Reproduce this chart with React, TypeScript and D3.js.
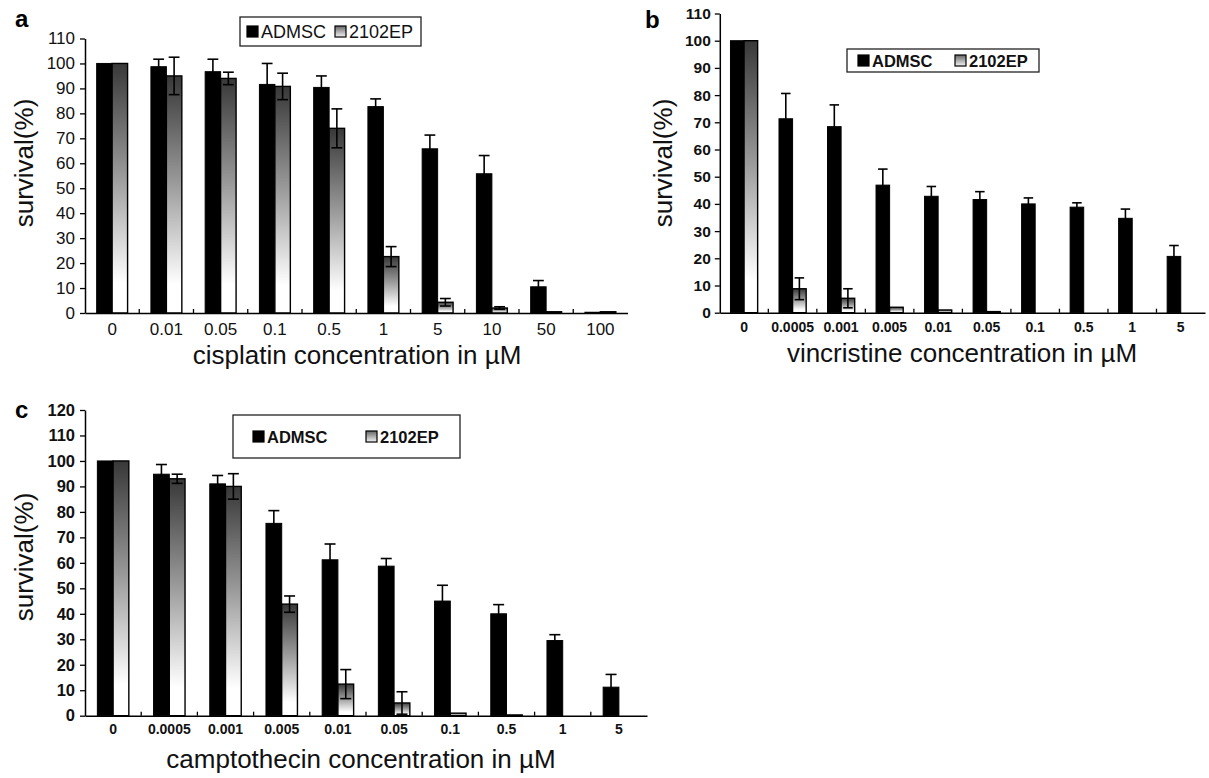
import React, { useEffect, useRef } from 'react';
import * as d3 from 'd3';

// panel a: cisplatin
const cisCats = ['0', '0.01', '0.05', '0.1', '0.5', '1', '5', '10', '50', '100'];
const cisAdmsc = [100, 98.7, 96.7, 91.6, 90.4, 82.7, 65.8, 55.8, 10.5, 0.3];
const cisAdmscErr = [0, 3, 5, 8.4, 4.6, 3.1, 5.5, 7.3, 2.5, 0];
const cisEp = [100, 95, 94, 90.8, 74, 22.6, 4.3, 2, 0.5, 0.5];
const cisEpErr = [0, 7.5, 2.5, 5.3, 7.8, 4, 1.5, 0.5, 0, 0];

// panel b: vincristine
const vinCats = ['0', '0.0005', '0.001', '0.005', '0.01', '0.05', '0.1', '0.5', '1', '5'];
const vinAdmsc = [100, 71.3, 68.4, 46.9, 42.8, 41.6, 40, 38.8, 34.7, 20.7];
const vinAdmscErr = [0, 9.3, 8, 5.9, 3.6, 2.9, 2.2, 1.6, 3.4, 4];
const vinEp = [100, 8.8, 5.3, 2, 1, 0.4, 0, 0, 0, 0];
const vinEpErr = [0, 4, 3.5, 0, 0, 0, 0, 0, 0, 0];

// panel c: camptothecin
const camCats = ['0', '0.0005', '0.001', '0.005', '0.01', '0.05', '0.1', '0.5', '1', '5'];
const camAdmsc = [100, 94.8, 91, 75.5, 61.2, 58.7, 45, 40, 29.5, 11.2];
const camAdmscErr = [0, 3.8, 3.3, 5, 6.2, 3, 6.2, 3.6, 2.3, 5];
const camEp = [100, 93, 90, 43.8, 12.4, 5, 1, 0.3, 0, 0];
const camEpErr = [0, 1.8, 5, 3.2, 5.7, 4.4, 0, 0, 0, 0];

const seriesNames = ['ADMSC', '2102EP'];
const yTicksA = d3.range(0, 111, 10);
const yTicksB = d3.range(0, 111, 10);
const yTicksC = d3.range(0, 121, 10);

const FONT = '"Liberation Sans", Arial, Helvetica, sans-serif';

type Panel = {
  letter: string;
  letterX: number;
  letterY: number;
  cats: string[];
  adm: number[];
  admErr: number[];
  ep: number[];
  epErr: number[];
  yTicks: number[];
  x0: number;
  x1: number;
  y0: number;
  yTop: number;
  barFrac: number;
  tickFont: number;
  tickWeight: string;
  xTickFont: number;
  xLabelPad: number;
  yLabelPad: number;
  xTitle: string;
  xTitleX: number;
  xTitleY: number;
  yTitleX: number;
  yTitleY: number;
  titleFont: number;
  legend: { x: number; y: number; w: number; h: number; pad: number; gap: number; font: number; weight: string };
};

function drawPanel(svg: d3.Selection<SVGSVGElement, unknown, null, undefined>, p: Panel) {
  const g = svg.append('g');
  const yMax = p.yTicks[p.yTicks.length - 1];

  const x = d3.scaleBand<string>().domain(p.cats).range([p.x0, p.x1]).padding(0);
  const y = d3.scaleLinear().domain([0, yMax]).range([p.y0, p.yTop]);
  const bw = x.step() * p.barFrac;
  const mid = (c: string) => (x(c) as number) + x.bandwidth() / 2;

  // ADMSC bars
  g.selectAll('rect.adm')
    .data(p.adm)
    .enter()
    .append('rect')
    .attr('x', (d, i) => mid(p.cats[i]) - bw)
    .attr('y', d => y(d))
    .attr('width', bw)
    .attr('height', d => p.y0 - y(d))
    .attr('fill', '#000')
    .attr('stroke', '#000')
    .attr('stroke-width', 1);

  // 2102EP bars
  g.selectAll('rect.ep')
    .data(p.ep)
    .enter()
    .append('rect')
    .attr('x', (d, i) => mid(p.cats[i]))
    .attr('y', d => y(d))
    .attr('width', bw)
    .attr('height', d => p.y0 - y(d))
    .attr('fill', 'url(#epGrad)')
    .attr('stroke', '#000')
    .attr('stroke-width', 1.4);

  // error bars
  const cap = bw * 0.7;
  const errs = (vals: number[], err: number[], off: number) => {
    vals.forEach((v, i) => {
      const e = err[i];
      if (!e) return;
      const cx = mid(p.cats[i]) + off;
      const eg = g.append('g').attr('stroke', '#000').attr('stroke-width', 1.6);
      eg.append('line').attr('x1', cx).attr('x2', cx).attr('y1', y(v - e)).attr('y2', y(v + e));
      eg.append('line').attr('x1', cx - cap / 2).attr('x2', cx + cap / 2).attr('y1', y(v + e)).attr('y2', y(v + e));
      eg.append('line').attr('x1', cx - cap / 2).attr('x2', cx + cap / 2).attr('y1', y(v - e)).attr('y2', y(v - e));
    });
  };
  errs(p.adm, p.admErr, -bw / 2);
  errs(p.ep, p.epErr, bw / 2);

  // y axis
  const yAxis = d3.axisLeft(y).tickValues(p.yTicks).tickSize(5).tickSizeOuter(0).tickPadding(p.yLabelPad);
  const ya = g.append('g').attr('transform', `translate(${p.x0},0)`).call(yAxis);
  ya.select('.domain').attr('stroke', '#000').attr('stroke-width', 1.5);
  ya.selectAll('line').attr('stroke', '#000').attr('stroke-width', 1.3);
  ya.selectAll('text')
    .attr('font-family', FONT)
    .attr('font-size', p.tickFont)
    .attr('font-weight', p.tickWeight)
    .attr('fill', '#111');

  // x axis
  const xAxis = d3.axisBottom(x).tickSize(0).tickSizeOuter(0).tickPadding(p.xLabelPad);
  const xa = g.append('g').attr('transform', `translate(0,${p.y0})`).call(xAxis);
  xa.select('.domain').attr('stroke', '#000').attr('stroke-width', 1.5);
  xa.selectAll('text')
    .attr('font-family', FONT)
    .attr('font-size', p.xTickFont)
    .attr('font-weight', p.tickWeight)
    .attr('fill', '#111');
  xa.selectAll('line.bound')
    .data(p.cats.slice(1))
    .enter()
    .append('line')
    .attr('class', 'bound')
    .attr('x1', d => x(d) as number)
    .attr('x2', d => x(d) as number)
    .attr('y1', 0)
    .attr('y2', -4)
    .attr('stroke', '#000')
    .attr('stroke-width', 1.3);

  // titles
  g.append('text')
    .attr('x', p.xTitleX)
    .attr('y', p.xTitleY)
    .attr('text-anchor', 'middle')
    .attr('font-family', FONT)
    .attr('font-size', p.titleFont)
    .attr('fill', '#111')
    .text(p.xTitle);
  g.append('text')
    .attr('transform', `translate(${p.yTitleX},${p.yTitleY}) rotate(-90)`)
    .attr('text-anchor', 'middle')
    .attr('dominant-baseline', 'central')
    .attr('font-family', FONT)
    .attr('font-size', p.titleFont)
    .attr('fill', '#111')
    .text('survival(%)');
  g.append('text')
    .attr('x', p.letterX)
    .attr('y', p.letterY)
    .attr('font-family', FONT)
    .attr('font-size', 24)
    .attr('font-weight', 'bold')
    .text(p.letter);

  // legend
  const L = p.legend;
  const lg = g.append('g').attr('transform', `translate(${L.x},${L.y})`);
  lg.append('rect')
    .attr('width', L.w)
    .attr('height', L.h)
    .attr('fill', '#fff')
    .attr('stroke', '#222')
    .attr('stroke-width', 1.3);
  const sq = 11;
  seriesNames.forEach((name, i) => {
    const ix = L.pad + i * L.gap;
    lg.append('rect')
      .attr('x', ix)
      .attr('y', L.h / 2 - sq / 2)
      .attr('width', sq)
      .attr('height', sq)
      .attr('fill', i === 0 ? '#000' : 'url(#epGradL)')
      .attr('stroke', '#000')
      .attr('stroke-width', 1.2);
    lg.append('text')
      .attr('x', ix + sq + 3)
      .attr('y', L.h / 2)
      .attr('dominant-baseline', 'central')
      .attr('font-family', FONT)
      .attr('font-size', L.font)
      .attr('font-weight', L.weight)
      .attr('fill', '#111')
      .text(name);
  });
}

const panels: Panel[] = [
  {
    letter: 'a', letterX: 15, letterY: 27,
    cats: cisCats, adm: cisAdmsc, admErr: cisAdmscErr, ep: cisEp, epErr: cisEpErr,
    yTicks: yTicksA, x0: 85, x1: 627.5, y0: 313, yTop: 38.5, barFrac: 0.285,
    tickFont: 17, tickWeight: 'normal', xTickFont: 17, xLabelPad: 10, yLabelPad: 5,
    xTitle: 'cisplatin concentration in \u00b5M', xTitleX: 357, xTitleY: 364,
    yTitleX: 24, yTitleY: 163, titleFont: 26,
    legend: { x: 240, y: 17, w: 181, h: 29, pad: 7, gap: 88, font: 18, weight: 'normal' },
  },
  {
    letter: 'b', letterX: 645, letterY: 28,
    cats: vinCats, adm: vinAdmsc, admErr: vinAdmscErr, ep: vinEp, epErr: vinEpErr,
    yTicks: yTicksB, x0: 719.8, x1: 1205, y0: 312.7, yTop: 13.5, barFrac: 0.28,
    tickFont: 15.5, tickWeight: 'bold', xTickFont: 14, xLabelPad: 9, yLabelPad: 4,
    xTitle: 'vincristine concentration in \u00b5M', xTitleX: 962, xTitleY: 362,
    yTitleX: 663, yTitleY: 163, titleFont: 26,
    legend: { x: 847, y: 49, w: 192, h: 23, pad: 11, gap: 97, font: 16.5, weight: 'bold' },
  },
  {
    letter: 'c', letterX: 15, letterY: 418,
    cats: camCats, adm: camAdmsc, admErr: camAdmscErr, ep: camEp, epErr: camEpErr,
    yTicks: yTicksC, x0: 85, x1: 647, y0: 715.7, yTop: 410, barFrac: 0.28,
    tickFont: 16.5, tickWeight: 'bold', xTickFont: 14, xLabelPad: 8, yLabelPad: 5,
    xTitle: 'camptothecin concentration in \u00b5M', xTitleX: 361, xTitleY: 768,
    yTitleX: 24, yTitleY: 557, titleFont: 26,
    legend: { x: 233, y: 415, w: 227, h: 43, pad: 20, gap: 113, font: 16.5, weight: 'bold' },
  },
];

export default function App() {
  const ref = useRef<SVGSVGElement>(null);

  useEffect(() => {
    const svg = d3.select(ref.current as SVGSVGElement);
    svg.selectAll('*').remove();

    const defs = svg.append('defs');
    const grad = defs.append('linearGradient').attr('id', 'epGrad')
      .attr('x1', 0).attr('y1', 0).attr('x2', 0).attr('y2', 1);
    grad.append('stop').attr('offset', 0).attr('stop-color', '#383838');
    grad.append('stop').attr('offset', 0.45).attr('stop-color', '#9a9a9a');
    grad.append('stop').attr('offset', 0.88).attr('stop-color', '#ffffff');
    grad.append('stop').attr('offset', 1).attr('stop-color', '#ffffff');
    const gradL = defs.append('linearGradient').attr('id', 'epGradL')
      .attr('x1', 0).attr('y1', 0).attr('x2', 0).attr('y2', 1);
    gradL.append('stop').attr('offset', 0).attr('stop-color', '#666');
    gradL.append('stop').attr('offset', 1).attr('stop-color', '#f4f4f4');

    panels.forEach(p => drawPanel(svg, p));
  }, []);

  return (
    <div style={{ position: 'absolute', left: 0, top: 0 }}>
      <svg ref={ref} width={1209} height={778} style={{ display: 'block', background: '#fff' }} />
    </div>
  );
}
